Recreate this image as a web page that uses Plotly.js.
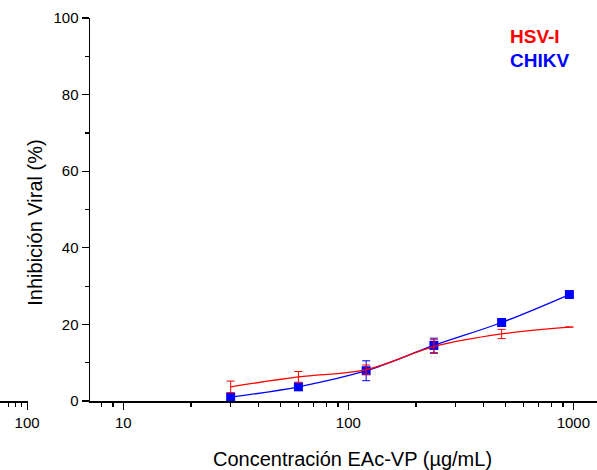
<!DOCTYPE html>
<html>
<head>
<meta charset="utf-8">
<script src="https://cdn.plot.ly/plotly-3.0.1.min.js"></script>
<style>html,body{margin:0;padding:0;background:#fff;}#chart{width:597px;height:470px;}</style>
</head>
<body>
<div id="chart"></div>
<script>
// Data
const concentrations = [30, 60, 120, 240, 480, 960];
const hsvInhibition = [3.7, 6.3, 8.2, 14.2, 17.5, 19.3];
const hsvError = [1.5, 1.4, 1.2, 1.8, 1.2, 0];
const chikvInhibition = [1.0, 3.7, 7.9, 14.5, 20.5, 27.8];
const chikvError = [0.8, 0.8, 2.6, 1.9, 0.6, 0.6];
const seriesNames = ["HSV-I", "CHIKV"];
const xTitle = "Concentración EAc-VP (µg/mL)";
const yTitle = "Inhibición Viral (%)";

const font = "Arial, 'Liberation Sans', sans-serif";
const W = 597, H = 470, plotTop = 18, plotBottom = 401.5;
const px = v => v / W;
const py = v => (plotBottom - v) / (plotBottom - plotTop);

const traces = [
  {
    x: concentrations, y: chikvInhibition, name: seriesNames[1],
    type: "scatter", mode: "lines+markers", cliponaxis: false,
    line: {color: "#0000ff", width: 1.3, shape: "spline", smoothing: 1},
    marker: {symbol: "square", size: 9, color: "#0000ff"},
    error_y: {type: "data", array: chikvError, visible: true, color: "#0000ff", thickness: 1, width: 4}
  },
  {
    x: concentrations, y: hsvInhibition, name: seriesNames[0],
    type: "scatter", mode: "lines", cliponaxis: false,
    line: {color: "#ff0000", width: 1.3, shape: "spline", smoothing: 1},
    error_y: {type: "data", array: hsvError, visible: true, color: "#ff0000", thickness: 1, width: 4}
  },
  // stray axis fragment at far left (no data)
  {x: [100], y: [null], xaxis: "x2", yaxis: "y", showlegend: false, hoverinfo: "skip", mode: "markers"}
];

const layout = {
  width: W, height: H,
  margin: {l: 0, r: 0, t: plotTop, b: H - plotBottom, pad: 0},
  paper_bgcolor: "#fff", plot_bgcolor: "#fff",
  showlegend: false,
  font: {family: font, size: 15, color: "#000"},
  xaxis: {
    type: "log", domain: [px(90), 1], range: [0.852, 3.105], anchor: "y",
    tickmode: "linear", tick0: 0, dtick: 1, exponentformat: "none",
    ticks: "outside", ticklen: 7, tickwidth: 1.2, tickcolor: "#000",
    showline: true, linecolor: "#000", linewidth: 1.5,
    showgrid: false, zeroline: false,
    tickfont: {family: font, size: 15, color: "#000"},
    minor: {ticks: "outside", ticklen: 4, tickwidth: 1.2, tickcolor: "#000", dtick: "D1", showgrid: false}
  },
  xaxis2: {
    type: "log", domain: [0, px(27.5)], range: [1.775, 2.003], anchor: "y",
    tickmode: "array", tickvals: [100], ticktext: ["100"],
    ticks: "outside", ticklen: 7, tickwidth: 1.2, tickcolor: "#000",
    showline: true, linecolor: "#000", linewidth: 1.5,
    showgrid: false, zeroline: false,
    tickfont: {family: font, size: 15, color: "#000"},
    minor: {ticks: "outside", ticklen: 4, tickwidth: 1.2, tickcolor: "#000", tickvals: [70, 80, 90], showgrid: false}
  },
  yaxis: {
    range: [0, 100], anchor: "x", dtick: 20, tick0: 0,
    ticks: "outside", ticklen: 7, tickwidth: 1.2, tickcolor: "#000",
    showline: true, linecolor: "#000", linewidth: 1.5,
    showgrid: false, zeroline: false,
    tickfont: {family: font, size: 15, color: "#000"},
    minor: {ticks: "outside", ticklen: 4, tickwidth: 1.2, tickcolor: "#000", dtick: 10, showgrid: false}
  },
  annotations: [
    {text: xTitle, xref: "paper", yref: "paper", x: px(352), y: py(460), xanchor: "center", yanchor: "middle",
     showarrow: false, font: {family: font, size: 20, color: "#000"}},
    {text: yTitle, xref: "paper", yref: "paper", x: px(35), y: py(223), xanchor: "center", yanchor: "middle",
     textangle: -90, showarrow: false, font: {family: font, size: 20, color: "#000"}},
    {text: "<b>" + seriesNames[0] + "</b>", xref: "paper", yref: "paper", x: px(508), y: py(36.3), xanchor: "left", yanchor: "middle",
     showarrow: false, font: {family: font, size: 19, color: "#ff0000"}},
    {text: "<b>" + seriesNames[1] + "</b>", xref: "paper", yref: "paper", x: px(508), y: py(60.5), xanchor: "left", yanchor: "middle",
     showarrow: false, font: {family: font, size: 19, color: "#0000ff"}}
  ]
};

Plotly.newPlot("chart", traces, layout, {displayModeBar: false, staticPlot: true});
</script>
</body>
</html>
